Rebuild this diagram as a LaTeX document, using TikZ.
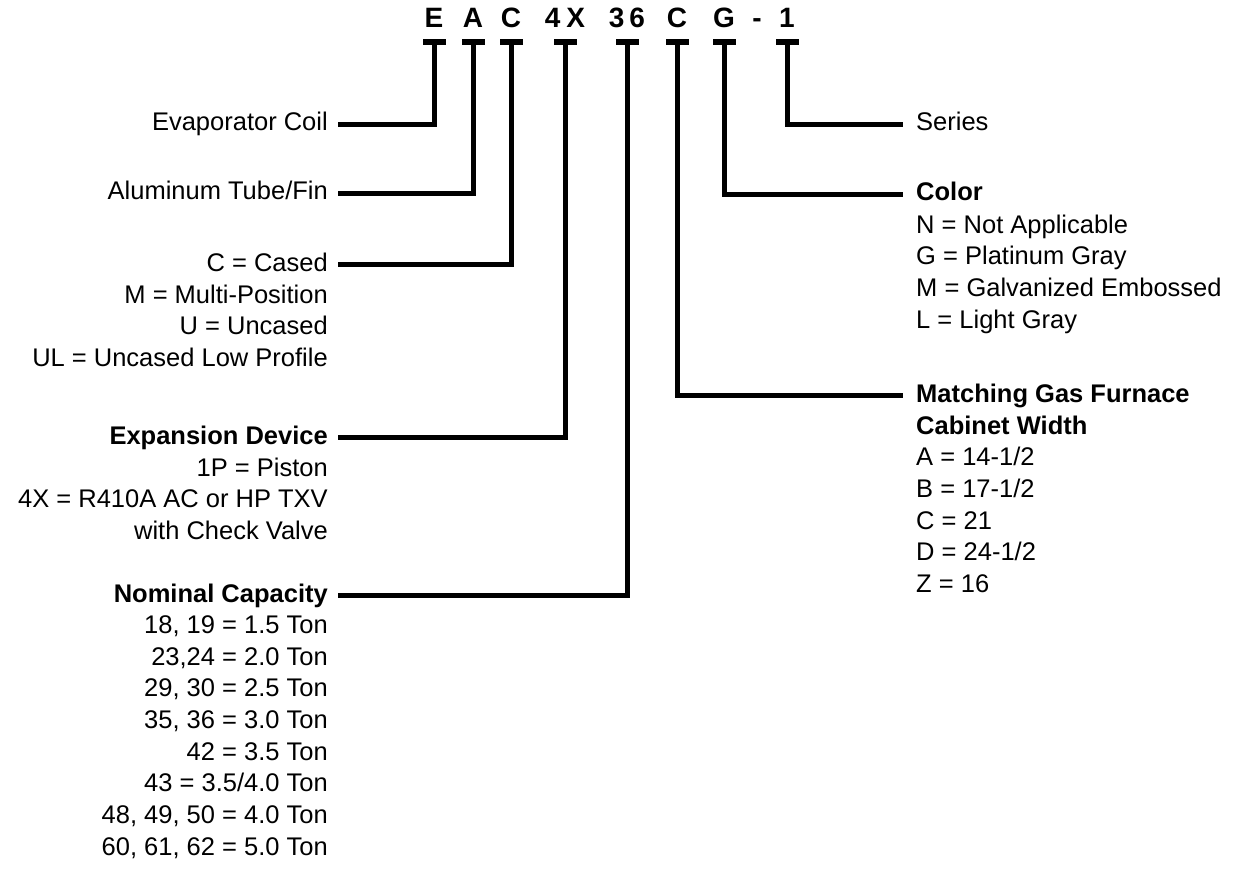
\documentclass[tikz,border=0pt]{standalone}
\usepackage{fontspec}
\setmainfont{Liberation Sans}
\usepackage{tikz}
\usetikzlibrary{positioning}
\newcommand\lblsize{\fontsize{25.5}{31.7}\selectfont}

\begin{document}
\begin{tikzpicture}[x=1pt, y=-1pt,
  code/.style={font=\fontsize{28}{34}\selectfont\bfseries, inner sep=0pt, anchor=base},
  tee/.style={fill=black, minimum width=23pt, minimum height=6pt, inner sep=0pt},
  lead/.style={line width=5pt},
  head/.style={font=\lblsize, inner xsep=10pt, inner ysep=0pt, text height=18.5pt, text depth=5.5pt},
  lhead/.style={head, anchor=base east},
  rhead/.style={head, inner xsep=13pt, anchor=base west},
  opts/.style={font=\lblsize, inner xsep=10pt, inner ysep=0pt}
]
\useasboundingbox (0,0) rectangle (1241,877);

% model number and tees
\foreach \nm/\x/\txt in {E/434/E, A/473/A, C/511/C, 4X/565/{4\hspace{6pt}X},
    36/627/{3\hspace{5pt}6}, C2/677/C, G/724/G, 1/787/1} {
  \node[code] (k\nm) at (\x,28) {\txt};
  \node[tee] (t\nm) at (\x,42) {};
}
\node[code] (kdash) at (757,28) {-};

% left column
\node[lhead] (evap) at (338,131) {Evaporator Coil};
\node[lhead] (alum) at (338,200) {Aluminum Tube/Fin};
\node[lhead] (cased) at (338,271) {C = Cased};
\node[opts, align=right, below=7.7pt of cased.south east, anchor=north east] (casedopts)
  {M = Multi-Position\\U = Uncased\\UL = Uncased Low Profile};
\node[lhead, font=\lblsize\bfseries] (expdev) at (338,444) {Expansion Device};
\node[opts, align=right, below=7.7pt of expdev.south east, anchor=north east] (expopts)
  {1P = Piston\\4X = R410A AC or HP TXV\\with Check Valve};
\node[lhead, font=\lblsize\bfseries] (nomcap) at (338,602) {Nominal Capacity};
\node[opts, align=right, below=7.7pt of nomcap.south east, anchor=north east] (capopts)
  {18, 19 = 1.5 Ton\\23,24 = 2.0 Ton\\29, 30 = 2.5 Ton\\35, 36 = 3.0 Ton\\42 = 3.5 Ton\\
   43 = 3.5/4.0 Ton\\48, 49, 50 = 4.0 Ton\\60, 61, 62 = 5.0 Ton};

% right column
\node[rhead] (series) at (903,131) {Series};
\node[rhead, font=\lblsize\bfseries] (color) at (903,201) {Color};
\node[opts, align=left, inner xsep=13pt, below=7.7pt of color.south west, anchor=north west] (colopts)
  {N = Not Applicable\\G = Platinum Gray\\M = Galvanized Embossed\\L = Light Gray};
\node[rhead, font=\lblsize\bfseries] (furnace) at (903,402) {Matching Gas Furnace};
\node[opts, align=left, inner xsep=13pt, below=7.7pt of furnace.south west, anchor=north west] (widthopts)
  {\textbf{Cabinet Width}\\A = 14-1/2\\B = 17-1/2\\C = 21\\D = 24-1/2\\Z = 16};

% leaders
\draw[lead] (tE.center) |- (evap.east);
\draw[lead] (tA.center) |- (alum.east);
\draw[lead] (tC.center) |- (cased.east);
\draw[lead] (t4X.center) |- (expdev.east);
\draw[lead] (t36.center) |- (nomcap.east);
\draw[lead] (tC2.center) |- (furnace.west);
\draw[lead] (tG.center) |- (color.west);
\draw[lead] (t1.center) |- (series.west);
\end{tikzpicture}
\end{document}
